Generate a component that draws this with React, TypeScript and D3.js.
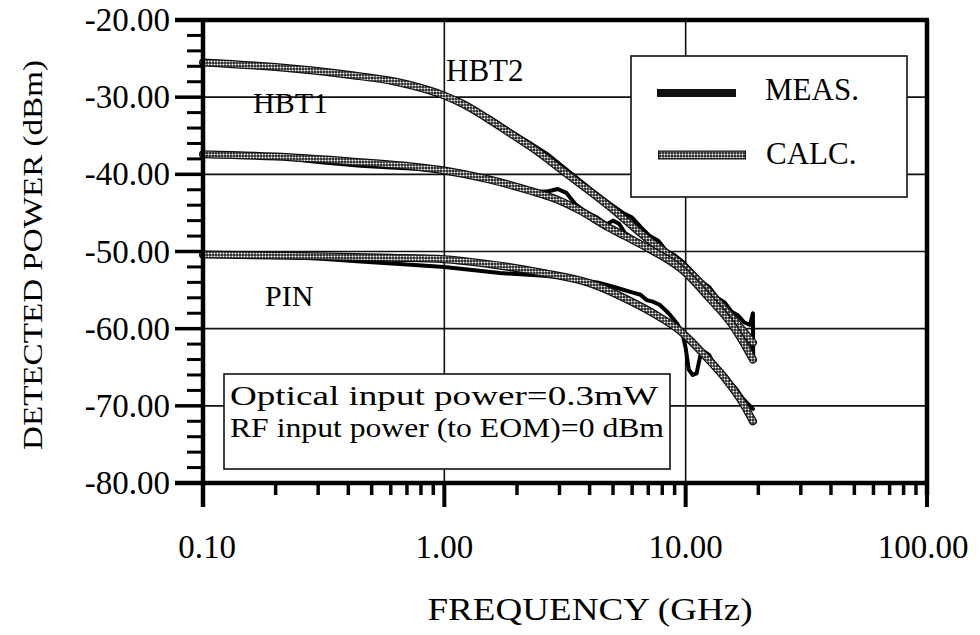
import React from "react";
import * as d3 from "d3";

// ---- data (frequency GHz, detected power dBm) ----
const hbt2Calc: [number, number][] = [
  [0.1, -25.5], [0.2, -26.1], [0.4, -27.1], [0.63, -28.0], [0.8, -28.8], [1.0, -29.8],
  [1.2, -30.9], [1.5, -32.7], [1.9, -34.8], [2.25, -36.3], [3.3, -40.2], [4.8, -44.1],
  [7.1, -48.6], [9.7, -51.8], [12.5, -55.2], [15.5, -58.5], [19, -61.8],
];
const hbt2Meas: [number, number][] = [
  [0.1, -25.5], [0.2, -26.0], [0.4, -27.0], [0.63, -27.9], [0.8, -28.7], [1.0, -29.7],
  [1.2, -30.8], [1.5, -32.5], [1.9, -34.5], [2.25, -35.9], [2.7, -37.5], [3.3, -39.7],
  [4.0, -41.8], [4.8, -43.7], [5.5, -45.0], [6.0, -45.6], [6.5, -46.8], [7.1, -48.0],
  [7.7, -48.6], [8.3, -49.9], [9.0, -50.5], [9.7, -51.3], [10.5, -52.4], [11.5, -53.8],
  [12.5, -54.6], [13.5, -56.0], [14.5, -56.6], [15.5, -57.8], [16.5, -58.3], [17.5, -59.2],
  [18.5, -59.5], [19, -58.0], [19.05, -64.0],
];
const hbt1Calc: [number, number][] = [
  [0.1, -37.4], [0.2, -37.7], [0.4, -38.3], [0.7, -38.9], [1.0, -39.5], [1.5, -40.6],
  [2.25, -42.1], [3.0, -43.4], [3.6, -44.6], [4.8, -46.9], [5.6, -48.0], [7.1, -49.7],
  [9.7, -52.4], [12.5, -56.0], [15.5, -59.4], [19, -64.0],
];
const hbt1Meas: [number, number][] = [
  [0.1, -37.4], [0.2, -37.8], [0.3, -38.4], [0.45, -38.9], [0.6, -39.1], [0.8, -39.3],
  [1.0, -39.6], [1.3, -40.3], [1.7, -41.2], [2.0, -41.8], [2.4, -42.3], [2.7, -42.2],
  [2.95, -41.9], [3.2, -42.4], [3.5, -43.9], [3.9, -45.0], [4.3, -45.6], [4.7, -46.5],
  [5.0, -46.0], [5.3, -46.4], [5.6, -47.6], [6.2, -48.5], [7.1, -49.5], [8.0, -50.5],
  [9.0, -51.6], [10, -52.8], [11, -54.2], [12.5, -55.8], [14, -57.6], [15.5, -59.0],
  [17, -60.3], [18.3, -61.5], [19, -62.5],
];
const pinCalc: [number, number][] = [
  [0.1, -50.4], [0.3, -50.6], [0.6, -50.8], [1.0, -51.0], [1.5, -51.6], [2.5, -52.7],
  [4.0, -54.1], [5.8, -56.3], [7.8, -58.5], [9.4, -60.2], [12.1, -63.6], [14.7, -66.6],
  [17.2, -69.6], [19, -72.0],
];
const pinMeas: [number, number][] = [
  [0.1, -50.5], [0.2, -50.6], [0.3, -50.9], [0.45, -51.3], [0.7, -51.7], [1.0, -52.0],
  [1.7, -52.8], [2.5, -53.1], [3.0, -53.3], [3.6, -53.7], [4.3, -54.0], [4.8, -54.4],
  [5.3, -54.8], [6.0, -55.3], [6.5, -55.6], [6.9, -56.3], [7.3, -56.5], [7.8, -56.9],
  [8.5, -58.0], [9.2, -59.3], [9.7, -60.6], [10.0, -62.5], [10.3, -65.3], [10.7, -66.0],
  [11.1, -65.8], [11.5, -63.5], [11.8, -62.9], [12.5, -63.4], [13.3, -65.0], [14.0, -65.6],
  [14.7, -66.2], [15.5, -67.2], [16.2, -67.8], [17.2, -69.0], [18.2, -69.8], [19, -70.4],
];

const xTickValues = [0.1, 1, 10, 100];
const xTickLabels = ["0.10", "1.00", "10.00", "100.00"];
const yTickValues = [-20, -30, -40, -50, -60, -70, -80];
const yTickLabels = ["-20.00", "-30.00", "-40.00", "-50.00", "-60.00", "-70.00", "-80.00"];
const gridX = [1, 10];
const gridY = [-30, -40, -50, -60, -70];

const FONT = "'Liberation Serif', 'Times New Roman', Times, serif";

export default function App() {
  const L = 203, R = 927, T = 20, B = 483;
  const x = d3.scaleLog().domain([0.1, 100]).range([L, R]);
  const y = d3.scaleLinear().domain([-80, -20]).range([B, T]);

  const calcLine = d3.line<[number, number]>().x(d => x(d[0])).y(d => y(d[1])).curve(d3.curveMonotoneX);
  const measLine = d3.line<[number, number]>().x(d => x(d[0])).y(d => y(d[1]));

  const xMinor: number[] = [];
  [0.1, 1, 10].forEach(dec => { for (let k = 2; k <= 9; k++) xMinor.push(dec * k); });
  const yMinor: number[] = [];
  for (let v = -80; v <= -20; v += 2) if (v % 10 !== 0) yMinor.push(v);

  const calcSeries = [hbt2Calc, hbt1Calc, pinCalc];
  const measSeries = [hbt2Meas, hbt1Meas, pinMeas];

  const CalcPath = ({ d }: { d: string }) => (
    <g>
      <path d={d} fill="none" stroke="#111" strokeWidth={8} strokeLinecap="round" strokeLinejoin="round" />
      <path d={d} fill="none" stroke="url(#dots)" strokeWidth={5.5} strokeLinecap="round" strokeLinejoin="round" />
    </g>
  );

  return (
    <svg width={980} height={635} style={{ position: "absolute", left: 0, top: 0, background: "#fff", fontFamily: FONT }}>
      <defs>
        <pattern id="dots" width={3} height={3} patternUnits="userSpaceOnUse">
          <rect width={3} height={3} fill="#222" />
          <circle cx={1.5} cy={1.5} r={1.05} fill="#fff" />
        </pattern>
      </defs>
      <rect x={0} y={0} width={980} height={635} fill="#fff" />

      {/* grid */}
      {gridY.map(v => (
        <line key={"gy" + v} x1={L} x2={R} y1={y(v)} y2={y(v)} stroke="#111" strokeWidth={1.6} />
      ))}
      {gridX.map(v => (
        <line key={"gx" + v} x1={x(v)} x2={x(v)} y1={T} y2={B} stroke="#111" strokeWidth={1.6} />
      ))}

      {/* legend box */}
      <rect x={631} y={56} width={276} height={141} fill="#fff" stroke="#111" strokeWidth={1.6} />
      <line x1={657} x2={736} y1={93} y2={93} stroke="#111" strokeWidth={8} />
      <g>
        <line x1={658} x2={746} y1={155} y2={155} stroke="#111" strokeWidth={9} />
        <line x1={659} x2={745} y1={155} y2={155} stroke="url(#dots)" strokeWidth={6.5} />
      </g>
      <text x={765} y={100} fontSize={31}>MEAS.</text>
      <text x={766} y={164} fontSize={31}>CALC.</text>

      {/* annotation box */}
      <rect x={224} y={374} width={446} height={95} fill="#fff" stroke="#111" strokeWidth={1.6} />
      <text x={230} y={405} fontSize={27} textLength={428} lengthAdjust="spacingAndGlyphs">Optical input power=0.3mW</text>
      <text x={230} y={437} fontSize={27} textLength={434} lengthAdjust="spacingAndGlyphs">RF input power (to EOM)=0 dBm</text>

      {/* curves */}
      {measSeries.map((s, i) => (
        <path key={"m" + i} d={measLine(s) || ""} fill="none" stroke="#000" strokeWidth={4}
          strokeLinejoin="round" strokeLinecap="round" />
      ))}
      {calcSeries.map((s, i) => <CalcPath key={"c" + i} d={calcLine(s) || ""} />)}

      {/* curve labels */}
      <text x={446} y={81} fontSize={31}>HBT2</text>
      <text x={253} y={113} fontSize={30}>HBT1</text>
      <text x={265} y={306} fontSize={30}>PIN</text>

      {/* axes frame */}
      <line x1={175} x2={R + 2} y1={T} y2={T} stroke="#000" strokeWidth={4.5} />
      <line x1={R} x2={R} y1={T} y2={B + 12} stroke="#000" strokeWidth={4.5} />
      <line x1={L} x2={L} y1={T} y2={B + 24} stroke="#000" strokeWidth={4.5} />
      <line x1={175} x2={R + 2} y1={B} y2={B} stroke="#000" strokeWidth={4.5} />

      {/* y ticks */}
      {yTickValues.map(v => (
        <line key={"yt" + v} x1={175} x2={L} y1={y(v)} y2={y(v)} stroke="#000" strokeWidth={3.5} />
      ))}
      {yMinor.map(v => (
        <line key={"ym" + v} x1={187} x2={L} y1={y(v)} y2={y(v)} stroke="#000" strokeWidth={3} />
      ))}
      {yTickValues.map((v, i) => (
        <text key={"yl" + v} x={170} y={y(v) + 11} fontSize={33} textAnchor="end">{yTickLabels[i]}</text>
      ))}

      {/* x ticks */}
      {xTickValues.map(v => (
        <line key={"xt" + v} x1={x(v)} x2={x(v)} y1={B} y2={B + 24} stroke="#000" strokeWidth={4} />
      ))}
      {xMinor.map(v => (
        <line key={"xm" + v} x1={x(v)} x2={x(v)} y1={B} y2={B + 12} stroke="#000" strokeWidth={3.5} />
      ))}
      {xTickValues.map((v, i) => (
        <text key={"xl" + v} x={x(v) + (i === 0 ? 4 : i === 3 ? -4 : 0)} y={558} fontSize={33} textAnchor="middle">{xTickLabels[i]}</text>
      ))}

      {/* axis titles */}
      <text x={590} y={620} fontSize={31} textAnchor="middle" textLength={325} lengthAdjust="spacingAndGlyphs">FREQUENCY (GHz)</text>
      <text transform={`translate(42,255) rotate(-90)`} fontSize={28} textAnchor="middle" textLength={390}
        lengthAdjust="spacingAndGlyphs">DETECTED  POWER (dBm)</text>
    </svg>
  );
}
